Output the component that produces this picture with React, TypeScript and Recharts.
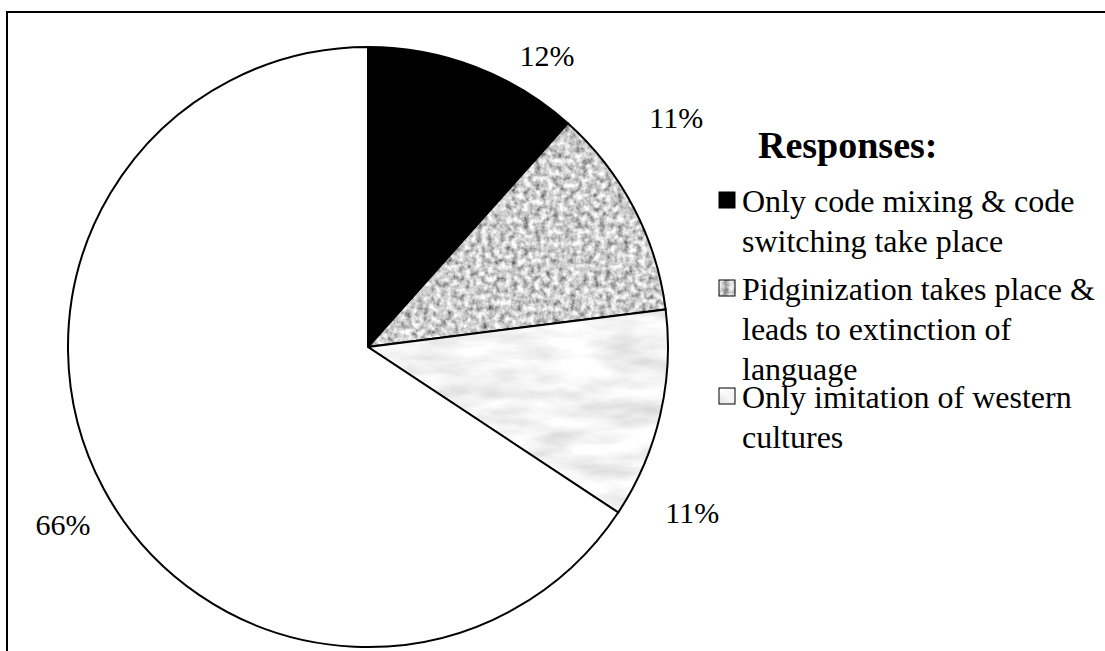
import React from 'react';
import { PieChart, Pie, Cell, Legend } from 'recharts';

// survey responses (percent of respondents)
const categories = [
  'Only code mixing & code switching take place',
  'Pidginization takes place & leads to extinction of language',
  'Only imitation of western cultures',
  'Other',
];
const values = [11.6, 11.4, 11.3, 65.7];

// legend text as it wraps in the original
const legendLines = [
  ['Only code mixing & code', 'switching take place'],
  ['Pidginization takes place &', 'leads to extinction of', 'language'],
  ['Only imitation of western', 'cultures'],
];

const FILLS = ['#000000', 'url(#texDark)', 'url(#texLight)', '#ffffff'];
const SERIF = '"Times New Roman", "Liberation Serif", serif';

// where each percentage sits relative to its slice (deg offset clockwise, radius)
const LABEL_SPOT = [
  { da: 10.7, r: 342 },
  { da: -8.9, r: 384 },
  { da: 13.9, r: 364 },
  { da: -2.0, r: 353 },
];

const data = values.map((v, i) => ({ name: categories[i], value: v }));

const RAD = Math.PI / 180;

const renderLabel = (props: any) => {
  const { cx, cy, midAngle, index, value } = props;
  const spot = LABEL_SPOT[index];
  const theta = (90 - midAngle + spot.da) * RAD; // clockwise from top
  const x = cx + spot.r * Math.sin(theta);
  const y = cy - spot.r * Math.cos(theta);
  return (
    <text
      x={x}
      y={y}
      textAnchor="middle"
      dominantBaseline="central"
      fontFamily={SERIF}
      fontSize={30}
      fill="#000"
    >
      {`${Math.round(value)}%`}
    </text>
  );
};

// baselines of each legend entry's first line, relative to legend box top
const ITEM_BASE = [112, 200, 308];
const LINE_GAP = 40;

const renderLegend = () => (
  <svg width={405} height={400} style={{ display: 'block' }}>
    <text x={58} y={58} fontFamily={SERIF} fontWeight="bold" fontSize={38} fill="#000">
      Responses:
    </text>
    {legendLines.map((lines, i) => (
      <g key={i}>
        <rect
          x={19}
          y={ITEM_BASE[i] - 20}
          width={16}
          height={16}
          fill={FILLS[i]}
          stroke="#000"
          strokeWidth={1}
        />
        {lines.map((ln, j) => (
          <text
            key={j}
            x={42}
            y={ITEM_BASE[i] + j * LINE_GAP}
            fontFamily={SERIF}
            fontSize={32}
            fill="#000"
          >
            {ln}
          </text>
        ))}
      </g>
    ))}
  </svg>
);

const App: React.FC = () => {
  return (
    <div
      style={{
        position: 'absolute',
        left: 0,
        top: 0,
        width: 1105,
        height: 651,
        overflow: 'hidden',
        background: '#fff',
      }}
    >
      {/* frame, only top and left edges show */}
      <div
        style={{
          position: 'absolute',
          left: 6,
          top: 11,
          width: 1200,
          height: 800,
          borderTop: '2px solid #000',
          borderLeft: '2px solid #000',
        }}
      />
      <div style={{ position: 'absolute', left: 0, top: 0 }}>
        <PieChart width={1105} height={651} margin={{ top: 0, right: 0, bottom: 0, left: 0 }}>
          <defs>
            <filter id="noiseDark" x="0" y="0" width="100%" height="100%">
              <feTurbulence type="fractalNoise" baseFrequency="0.17" numOctaves={3} seed={3} />
              <feColorMatrix
                type="matrix"
                values="1.4 0 0 0 -0.08  1.4 0 0 0 -0.08  1.4 0 0 0 -0.08  0 0 0 0 1"
              />
              <feGaussianBlur stdDeviation="0.6" />
            </filter>
            <filter id="noiseLight" x="0" y="0" width="100%" height="100%">
              <feTurbulence type="fractalNoise" baseFrequency="0.015 0.05" numOctaves={4} seed={7} />
              <feColorMatrix
                type="matrix"
                values="0.6 0 0 0 0.6  0.6 0 0 0 0.6  0.6 0 0 0 0.6  0 0 0 0 1"
              />
            </filter>
            <pattern id="texDark" patternUnits="userSpaceOnUse" width={1105} height={651}>
              <rect width={1105} height={651} filter="url(#noiseDark)" />
            </pattern>
            <pattern id="texLight" patternUnits="userSpaceOnUse" width={1105} height={651}>
              <rect width={1105} height={651} filter="url(#noiseLight)" />
            </pattern>
          </defs>
          <Pie
            data={data}
            dataKey="value"
            nameKey="name"
            cx={368}
            cy={347}
            outerRadius={300}
            startAngle={90}
            endAngle={-270}
            stroke="#000"
            strokeWidth={2}
            labelLine={false}
            label={renderLabel}
            isAnimationActive={false}
          >
            {data.map((d, i) => (
              <Cell key={d.name} fill={FILLS[i]} />
            ))}
          </Pie>
          <Legend
            layout="vertical"
            align="right"
            verticalAlign="middle"
            content={renderLegend}
            wrapperStyle={{ left: 700, top: 100, width: 405, height: 400 }}
          />
        </PieChart>
      </div>
    </div>
  );
};

export default App;
